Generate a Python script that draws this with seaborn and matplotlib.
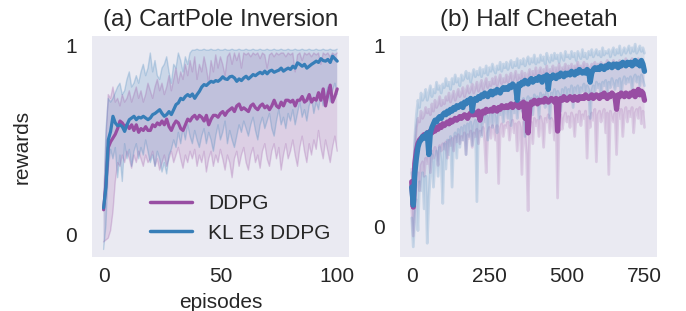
import numpy as np
import pandas as pd
import matplotlib
matplotlib.use("Agg")
import matplotlib.pyplot as plt
import seaborn as sns

# ---------------- data ----------------
methods = ["DDPG", "KL E3 DDPG"]
colors = {"DDPG": "#984ea3", "KL E3 DDPG": "#377eb8"}

cp_episodes = list(range(0, 101))
cp_ddpg_mean = [0.13, 0.27, 0.46, 0.49, 0.51, 0.53, 0.56, 0.60, 0.59, 0.57,
                0.58, 0.56, 0.58, 0.55, 0.58, 0.54, 0.56, 0.55, 0.57, 0.55,
                0.55, 0.58, 0.57, 0.59, 0.58, 0.60, 0.58, 0.61, 0.57, 0.55,
                0.58, 0.60, 0.59, 0.56, 0.55, 0.58, 0.61, 0.60, 0.62, 0.63,
                0.61, 0.63, 0.62, 0.60, 0.63, 0.58, 0.61, 0.63, 0.63, 0.62,
                0.64, 0.65, 0.63, 0.65, 0.66, 0.67, 0.65, 0.68, 0.69, 0.66,
                0.67, 0.66, 0.65, 0.68, 0.69, 0.67, 0.66, 0.68, 0.69, 0.67,
                0.68, 0.66, 0.68, 0.71, 0.68, 0.67, 0.70, 0.68, 0.71, 0.71,
                0.70, 0.71, 0.68, 0.71, 0.71, 0.73, 0.70, 0.71, 0.74, 0.70,
                0.72, 0.71, 0.75, 0.71, 0.77, 0.68, 0.74, 0.79, 0.70, 0.73, 0.77]
cp_ddpg_lo = [-0.04, -0.03, -0.02, 0.02, 0.12, 0.28, 0.38, 0.36, 0.42, 0.38,
              0.44, 0.40, 0.35, 0.42, 0.38, 0.44, 0.40, 0.36, 0.42, 0.38,
              0.40, 0.44, 0.36, 0.40, 0.34, 0.38, 0.42, 0.36, 0.40, 0.44,
              0.38, 0.42, 0.46, 0.40, 0.35, 0.42, 0.38, 0.44, 0.40, 0.45,
              0.36, 0.42, 0.38, 0.44, 0.33, 0.40, 0.44, 0.36, 0.42, 0.38,
              0.45, 0.40, 0.34, 0.42, 0.38, 0.30, 0.40, 0.44, 0.36, 0.42,
              0.46, 0.38, 0.34, 0.42, 0.46, 0.38, 0.42, 0.35, 0.44, 0.48,
              0.40, 0.36, 0.44, 0.48, 0.40, 0.46, 0.34, 0.42, 0.48, 0.40,
              0.44, 0.50, 0.42, 0.36, 0.46, 0.52, 0.44, 0.38, 0.48, 0.42,
              0.50, 0.45, 0.55, 0.46, 0.40, 0.50, 0.44, 0.38, 0.46, 0.52, 0.44]
cp_ddpg_hi = [0.14, 0.50, 0.74, 0.72, 0.78, 0.70, 0.72, 0.68, 0.74, 0.70,
              0.72, 0.76, 0.70, 0.74, 0.78, 0.72, 0.76, 0.70, 0.74, 0.80,
              0.76, 0.72, 0.78, 0.82, 0.76, 0.80, 0.74, 0.78, 0.84, 0.76,
              0.82, 0.88, 0.80, 0.86, 0.82, 0.90, 0.84, 0.92, 0.86, 0.94,
              0.82, 0.90, 0.86, 0.94, 0.88, 0.80, 0.92, 0.86, 0.95, 0.88,
              0.94, 0.90, 0.84, 0.94, 0.96, 0.90, 0.96, 0.92, 0.96, 0.88,
              0.96, 0.95, 0.96, 0.94, 0.96, 0.95, 0.96, 0.93, 0.96, 0.95,
              0.88, 0.95, 0.96, 0.94, 0.96, 0.95, 0.96, 0.96, 0.94, 0.96,
              0.95, 0.96, 0.86, 0.95, 0.96, 0.92, 0.96, 0.95, 0.96, 0.94,
              0.96, 0.95, 0.96, 0.90, 0.96, 0.95, 0.96, 0.94, 0.96, 0.95, 0.96]
cp_kl_mean = [0.14, 0.25, 0.50, 0.545, 0.625, 0.59, 0.575, 0.58, 0.57, 0.545,
              0.58, 0.607, 0.616, 0.625, 0.607, 0.62, 0.616, 0.625, 0.616, 0.607,
              0.616, 0.634, 0.64, 0.65, 0.66, 0.64, 0.625, 0.634, 0.65, 0.634,
              0.66, 0.687, 0.696, 0.72, 0.713, 0.73, 0.74, 0.73, 0.743, 0.72,
              0.74, 0.757, 0.78, 0.793, 0.788, 0.80, 0.81, 0.805, 0.814, 0.81,
              0.82, 0.834, 0.823, 0.82, 0.834, 0.837, 0.828, 0.81, 0.823, 0.814,
              0.828, 0.837, 0.823, 0.834, 0.846, 0.84, 0.85, 0.858, 0.85, 0.864,
              0.85, 0.864, 0.869, 0.858, 0.864, 0.869, 0.88, 0.864, 0.873, 0.88,
              0.873, 0.89, 0.88, 0.908, 0.90, 0.89, 0.90, 0.88, 0.89, 0.90,
              0.908, 0.917, 0.91, 0.93, 0.92, 0.917, 0.926, 0.91, 0.943, 0.93, 0.917]
cp_kl_lo = [-0.08, 0.05, 0.35, 0.45, 0.40, 0.46, 0.30, 0.42, 0.28, 0.48,
            0.40, 0.45, 0.36, 0.44, 0.48, 0.40, 0.46, 0.42, 0.50, 0.44,
            0.38, 0.42, 0.36, 0.44, 0.40, 0.33, 0.38, 0.32, 0.42, 0.45,
            0.50, 0.46, 0.54, 0.48, 0.56, 0.50, 0.58, 0.52, 0.48, 0.55,
            0.50, 0.46, 0.52, 0.56, 0.48, 0.54, 0.50, 0.44, 0.52, 0.58,
            0.50, 0.54, 0.60, 0.48, 0.55, 0.50, 0.46, 0.52, 0.58, 0.54,
            0.60, 0.56, 0.52, 0.58, 0.62, 0.55, 0.50, 0.58, 0.62, 0.56,
            0.60, 0.64, 0.56, 0.52, 0.60, 0.66, 0.58, 0.62, 0.56, 0.64,
            0.60, 0.66, 0.58, 0.64, 0.70, 0.62, 0.66, 0.60, 0.68, 0.72,
            0.64, 0.70, 0.66, 0.74, 0.68, 0.72, 0.78, 0.70, 0.76, 0.80, 0.74]
cp_kl_hi = [0.15, 0.55, 0.72, 0.70, 0.72, 0.75, 0.78, 0.80, 0.74, 0.76,
            0.82, 0.86, 0.78, 0.80, 0.84, 0.80, 0.86, 0.90, 0.84, 0.88,
            0.96, 0.86, 0.92, 0.84, 0.82, 0.88, 0.90, 0.94, 0.86, 0.80,
            0.90, 0.88, 0.96, 0.92, 0.86, 0.94, 0.90, 0.96, 0.975, 0.975,
            0.98, 0.975, 0.975, 0.98, 0.975, 0.975, 0.98, 0.975, 0.975, 0.98,
            0.975, 0.975, 0.98, 0.975, 0.975, 0.98, 0.975, 0.975, 0.98, 0.975,
            0.975, 0.98, 0.975, 0.975, 0.98, 0.975, 0.975, 0.98, 0.975, 0.975,
            0.98, 0.975, 0.975, 0.98, 0.975, 0.975, 0.98, 0.975, 0.975, 0.98,
            0.975, 0.975, 0.98, 0.975, 0.975, 0.98, 0.975, 0.975, 0.98, 0.975,
            0.975, 0.98, 0.975, 0.975, 0.98, 0.975, 0.975, 0.98, 0.975, 0.975, 0.98]

hc_episodes = list(range(0, 751, 5))
hc_ddpg_mean = [0.25, 0.11, 0.35, 0.42, 0.46, 0.48, 0.49, 0.50, 0.51, 0.50, 0.52,
                0.51, 0.53, 0.52, 0.54, 0.53, 0.55, 0.54, 0.56, 0.55, 0.57,
                0.56, 0.57, 0.58, 0.57, 0.59, 0.58, 0.59, 0.60, 0.59, 0.60,
                0.61, 0.60, 0.61, 0.62, 0.61, 0.60, 0.62, 0.63, 0.62, 0.62,
                0.63, 0.62, 0.64, 0.59, 0.63, 0.64, 0.63, 0.65, 0.64, 0.64,
                0.65, 0.64, 0.66, 0.65, 0.64, 0.66, 0.65, 0.67, 0.66, 0.66,
                0.67, 0.66, 0.67, 0.68, 0.66, 0.67, 0.68, 0.67, 0.66, 0.68,
                0.67, 0.69, 0.60, 0.68, 0.52, 0.66, 0.69, 0.68, 0.70, 0.69,
                0.68, 0.70, 0.69, 0.70, 0.69, 0.71, 0.70, 0.69, 0.70, 0.71,
                0.70, 0.69, 0.71, 0.53, 0.70, 0.71, 0.70, 0.72, 0.71, 0.70,
                0.71, 0.72, 0.71, 0.70, 0.72, 0.71, 0.70, 0.72, 0.71, 0.72,
                0.71, 0.73, 0.72, 0.71, 0.72, 0.73, 0.71, 0.72, 0.73, 0.72,
                0.71, 0.73, 0.72, 0.74, 0.72, 0.71, 0.73, 0.72, 0.74, 0.73,
                0.72, 0.65, 0.73, 0.72, 0.74, 0.73, 0.72, 0.74, 0.73, 0.72,
                0.74, 0.73, 0.75, 0.72, 0.74, 0.76, 0.73, 0.75, 0.74, 0.70]
hc_ddpg_lo = [0.10, -0.05, 0.10, 0.25, 0.30, 0.20, 0.34, 0.36, 0.28, 0.38, 0.35,
              0.40, 0.30, 0.42, 0.38, 0.44, 0.40, 0.34, 0.45, 0.42, 0.46,
              0.43, 0.47, 0.38, 0.48, 0.45, 0.49, 0.42, 0.50, 0.47, 0.51,
              0.46, 0.50, 0.48, 0.52, 0.40, 0.51, 0.49, 0.53, 0.44, 0.52,
              0.50, 0.54, 0.46, 0.53, 0.51, 0.55, 0.47, 0.30, 0.52, 0.55,
              0.49, 0.56, 0.53, 0.48, 0.56, 0.24, 0.54, 0.57, 0.50, 0.56,
              0.55, 0.58, 0.48, 0.56, 0.59, 0.52, 0.57, 0.42, 0.58, 0.55,
              0.29, 0.58, 0.50, 0.40, 0.09, 0.52, 0.58, 0.46, 0.60, 0.56,
              0.59, 0.50, 0.61, 0.57, 0.44, 0.60, 0.58, 0.62, 0.52, 0.60,
              0.58, 0.48, 0.61, 0.16, 0.59, 0.62, 0.54, 0.60, 0.63, 0.58,
              0.61, 0.55, 0.63, 0.60, 0.50, 0.62, 0.58, 0.64, 0.56, 0.62,
              0.60, 0.64, 0.38, 0.61, 0.55, 0.63, 0.59, 0.65, 0.36, 0.62,
              0.64, 0.58, 0.62, 0.65, 0.52, 0.63, 0.29, 0.64, 0.60, 0.58,
              0.63, 0.40, 0.64, 0.60, 0.65, 0.50, 0.62, 0.66, 0.58, 0.64,
              0.61, 0.66, 0.52, 0.63, 0.65, 0.60, 0.66, 0.57, 0.64, 0.55]
hc_ddpg_hi = [0.32, 0.20, 0.45, 0.55, 0.60, 0.58, 0.64, 0.60, 0.62, 0.66, 0.63,
              0.65, 0.62, 0.68, 0.64, 0.70, 0.66, 0.68, 0.72, 0.67, 0.70,
              0.68, 0.72, 0.70, 0.74, 0.69, 0.72, 0.75, 0.70, 0.73, 0.76,
              0.72, 0.74, 0.77, 0.72, 0.75, 0.78, 0.74, 0.76, 0.79, 0.74,
              0.77, 0.80, 0.75, 0.78, 0.81, 0.76, 0.79, 0.82, 0.77, 0.80,
              0.78, 0.82, 0.79, 0.83, 0.78, 0.81, 0.84, 0.79, 0.82, 0.80,
              0.84, 0.80, 0.83, 0.85, 0.80, 0.83, 0.86, 0.81, 0.84, 0.82,
              0.86, 0.82, 0.85, 0.80, 0.84, 0.87, 0.83, 0.86, 0.84, 0.88,
              0.83, 0.86, 0.88, 0.84, 0.87, 0.85, 0.89, 0.84, 0.87, 0.86,
              0.89, 0.85, 0.88, 0.86, 0.90, 0.85, 0.88, 0.87, 0.90, 0.86,
              0.89, 0.87, 0.90, 0.86, 0.89, 0.88, 0.91, 0.87, 0.89, 0.88,
              0.91, 0.87, 0.90, 0.88, 0.86, 0.90, 0.88, 0.91, 0.87, 0.90,
              0.88, 0.91, 0.87, 0.90, 0.89, 0.92, 0.88, 0.90, 0.89, 0.92,
              0.88, 0.91, 0.89, 0.92, 0.88, 0.91, 0.90, 0.93, 0.89, 0.91,
              0.90, 0.93, 0.89, 0.92, 0.90, 0.93, 0.89, 0.92, 0.91, 0.88]
hc_kl_mean = [0.22, 0.12, 0.30, 0.38, 0.44, 0.47, 0.48, 0.50, 0.49, 0.51, 0.52,
              0.40, 0.52, 0.55, 0.57, 0.59, 0.58, 0.60, 0.61, 0.60, 0.62,
              0.63, 0.62, 0.64, 0.63, 0.65, 0.64, 0.66, 0.65, 0.67, 0.66,
              0.67, 0.68, 0.66, 0.69, 0.68, 0.70, 0.69, 0.71, 0.64, 0.70,
              0.71, 0.70, 0.72, 0.71, 0.73, 0.72, 0.74, 0.73, 0.72, 0.74,
              0.75, 0.73, 0.75, 0.74, 0.76, 0.75, 0.74, 0.76, 0.77, 0.76,
              0.77, 0.76, 0.78, 0.77, 0.79, 0.78, 0.77, 0.70, 0.79, 0.78,
              0.80, 0.79, 0.81, 0.80, 0.79, 0.81, 0.82, 0.80, 0.81, 0.82,
              0.81, 0.83, 0.82, 0.80, 0.83, 0.82, 0.84, 0.76, 0.83, 0.82,
              0.84, 0.83, 0.82, 0.84, 0.83, 0.85, 0.84, 0.83, 0.85, 0.84,
              0.85, 0.84, 0.86, 0.85, 0.84, 0.86, 0.85, 0.87, 0.86, 0.85,
              0.86, 0.85, 0.87, 0.86, 0.80, 0.85, 0.87, 0.88, 0.87, 0.88,
              0.87, 0.89, 0.88, 0.87, 0.89, 0.88, 0.90, 0.89, 0.88, 0.90,
              0.89, 0.90, 0.88, 0.90, 0.89, 0.91, 0.90, 0.89, 0.91, 0.90,
              0.91, 0.89, 0.90, 0.92, 0.90, 0.91, 0.89, 0.92, 0.90, 0.86]
hc_kl_lo = [0.05, -0.11, 0.05, 0.15, -0.02, 0.25, 0.20, 0.30, 0.10, 0.28, -0.09,
            0.15, 0.30, 0.40, 0.22, 0.36, 0.42, 0.28, 0.44, 0.35, 0.13,
            0.46, 0.32, 0.48, 0.40, 0.50, 0.22, 0.47, 0.52, 0.38, 0.54,
            0.44, 0.55, 0.48, 0.56, 0.40, 0.57, 0.50, 0.58, 0.45, 0.56,
            0.59, 0.14, 0.57, 0.60, 0.50, 0.61, 0.58, 0.62, 0.48, 0.60,
            0.63, 0.55, 0.64, 0.60, 0.52, 0.65, 0.62, 0.66, 0.58, 0.64,
            0.67, 0.60, 0.66, 0.56, 0.68, 0.63, 0.69, 0.60, 0.67, 0.70,
            0.64, 0.71, 0.50, 0.69, 0.72, 0.66, 0.71, 0.62, 0.73, 0.68,
            0.72, 0.60, 0.74, 0.70, 0.73, 0.66, 0.75, 0.71, 0.60, 0.74,
            0.72, 0.76, 0.68, 0.75, 0.73, 0.64, 0.76, 0.72, 0.77, 0.70,
            0.76, 0.73, 0.78, 0.66, 0.77, 0.74, 0.78, 0.70, 0.77, 0.75,
            0.79, 0.72, 0.78, 0.76, 0.60, 0.75, 0.78, 0.74, 0.80, 0.77,
            0.79, 0.72, 0.80, 0.78, 0.81, 0.74, 0.80, 0.77, 0.82, 0.79,
            0.76, 0.81, 0.78, 0.82, 0.73, 0.80, 0.83, 0.79, 0.82, 0.80,
            0.83, 0.76, 0.82, 0.84, 0.80, 0.83, 0.78, 0.84, 0.81, 0.78]
hc_kl_hi = [0.30, 0.25, 0.50, 0.62, 0.70, 0.66, 0.74, 0.70, 0.72, 0.76, 0.70,
            0.74, 0.78, 0.72, 0.76, 0.74, 0.80, 0.76, 0.78, 0.74, 0.79,
            0.77, 0.82, 0.78, 0.80, 0.76, 0.82, 0.79, 0.84, 0.80, 0.82,
            0.78, 0.84, 0.81, 0.83, 0.86, 0.82, 0.85, 0.80, 0.84, 0.87,
            0.83, 0.86, 0.84, 0.88, 0.83, 0.87, 0.85, 0.89, 0.84, 0.88,
            0.86, 0.90, 0.87, 0.85, 0.89, 0.87, 0.91, 0.86, 0.90, 0.88,
            0.91, 0.87, 0.90, 0.92, 0.88, 0.91, 0.89, 0.93, 0.88, 0.92,
            0.90, 0.93, 0.89, 0.92, 0.94, 0.90, 0.93, 0.91, 0.95, 0.90,
            0.93, 0.91, 0.95, 0.92, 0.94, 0.90, 0.96, 0.93, 0.91, 0.95,
            0.92, 0.96, 0.93, 0.95, 0.91, 0.96, 0.94, 0.92, 0.97, 0.94,
            0.95, 0.93, 0.97, 0.94, 0.96, 0.92, 0.97, 0.95, 0.93, 0.98,
            0.94, 0.96, 0.93, 0.97, 0.95, 0.98, 0.94, 0.96, 0.98, 0.95,
            0.97, 0.94, 0.99, 0.95, 0.97, 0.96, 0.98, 0.94, 0.97, 0.99,
            0.95, 0.98, 0.96, 1.00, 0.95, 0.97, 0.99, 0.96, 0.98, 1.00,
            0.96, 0.99, 0.97, 1.01, 0.96, 0.98, 1.00, 0.97, 0.99, 0.96]

titles = ["(a) CartPole Inversion", "(b) Half Cheetah"]

# ---------------- style ----------------
sns.set_style("dark")
plt.rcParams["font.family"] = ["Liberation Sans", "DejaVu Sans"]
plt.rcParams["text.color"] = "#262626"

fig = plt.figure(figsize=(6.86, 3.11), dpi=100)
ax1 = fig.add_axes([0.134, 0.1736, 0.3746, 0.7106])
ax2 = fig.add_axes([0.583, 0.1736, 0.3746, 0.7106])


def long_df(x, ddpg, kl):
    return pd.DataFrame({
        "episode": list(x) * 2,
        "reward": list(ddpg) + list(kl),
        "method": ["DDPG"] * len(x) + ["KL E3 DDPG"] * len(x),
    })


# Panel (a)
for name, lo, hi in [("DDPG", cp_ddpg_lo, cp_ddpg_hi), ("KL E3 DDPG", cp_kl_lo, cp_kl_hi)]:
    ax1.fill_between(cp_episodes, lo, hi, facecolor=colors[name], alpha=0.17,
                     edgecolor="none")
    ax1.plot(cp_episodes, lo, color=colors[name], alpha=0.25, lw=1.0)
    ax1.plot(cp_episodes, hi, color=colors[name], alpha=0.25, lw=1.0)
sns.lineplot(data=long_df(cp_episodes, cp_ddpg_mean, cp_kl_mean), x="episode", y="reward",
             hue="method", hue_order=methods, palette=colors, ax=ax1, lw=2.3,
             errorbar=None)

# Panel (b)
for name, lo, hi in [("DDPG", hc_ddpg_lo, hc_ddpg_hi), ("KL E3 DDPG", hc_kl_lo, hc_kl_hi)]:
    ax2.fill_between(hc_episodes, lo, hi, facecolor=colors[name], alpha=0.12,
                     edgecolor="none")
    ax2.plot(hc_episodes, lo, color=colors[name], alpha=0.2, lw=2.0)
    ax2.plot(hc_episodes, hi, color=colors[name], alpha=0.2, lw=2.0)
sns.lineplot(data=long_df(hc_episodes, hc_ddpg_mean, hc_kl_mean), x="episode", y="reward",
             hue="method", hue_order=methods, palette=colors, ax=ax2, lw=3.8,
             errorbar=None, legend=False)

fs_tick = 15
fs_title = 17.5
ax1.set_xlim(-5, 105)
ax1.set_ylim(-0.12, 1.05)
ax1.set_xticks([0, 50, 100])
ax1.set_yticks([0, 1])
ax1.set_xlabel("episodes", fontsize=fs_tick, labelpad=5)
ax1.set_ylabel("rewards", fontsize=fs_tick, labelpad=24)
ax1.set_title(titles[0], fontsize=fs_title, pad=7)

ax2.set_xlim(-38, 790)
ax2.set_ylim(-0.166, 1.055)
ax2.set_xticks([0, 250, 500, 750])
ax2.set_yticks([0, 1])
ax2.set_xlabel("")
ax2.set_ylabel("")
ax2.set_title(titles[1], fontsize=fs_title, pad=7)

for ax in (ax1, ax2):
    ax.tick_params(axis="x", labelsize=fs_tick, length=0, pad=7)
    ax.tick_params(axis="y", labelsize=fs_tick, length=0, pad=11)
    for s in ax.spines.values():
        s.set_visible(False)

leg = ax1.legend(loc="lower right", bbox_to_anchor=(1.0, -0.02), frameon=False,
                 fontsize=fs_tick, handlelength=2.0, handletextpad=0.75,
                 labelspacing=0.5)
for line in leg.get_lines():
    line.set_linewidth(2.5)

fig.savefig("out.png", dpi=100)
